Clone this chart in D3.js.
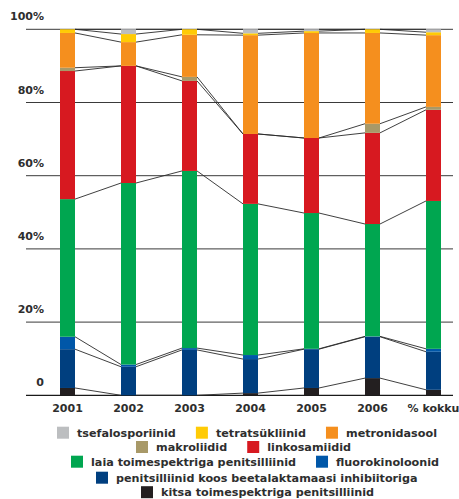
<!DOCTYPE html>
<html><head><meta charset="utf-8">
<script src="https://cdn.jsdelivr.net/npm/d3@7"></script>
<style>
html,body{margin:0;padding:0;background:#fff;}
text{font-family:"DejaVu Sans",sans-serif;font-weight:700;fill:#2e2e2e;}
</style></head>
<body>
<svg id="c" width="459" height="499"></svg>
<script>
const categories = ["2001","2002","2003","2004","2005","2006","% kokku"];
const seriesNames = ["kitsa toimespektriga penitsilliinid","penitsilliinid koos beetalaktamaasi inhibiitoriga","fluorokinoloonid","laia toimespektriga penitsilliinid","linkosamiidid","makroliidid","metronidasool","tetratsükliinid","tsefalosporiinid"];
const colors = ["#231f20","#003f7f","#0057a8","#00a650","#d71920","#a89968","#f58f1e","#ffcb05","#bcbec0"];
// values per series, one per category (percent)
const kitsa     = [2.0, 0.0, 0.0, 0.6, 2.0, 4.7, 1.5];
const beeta     = [10.6, 7.8, 12.4, 9.3, 10.6, 11.3, 10.4];
const fluoro    = [3.4, 0.6, 0.5, 1.1, 0.1, 0.1, 0.8];
const laia      = [37.6, 49.6, 48.4, 41.3, 37.1, 30.7, 40.4];
const linko     = [35.0, 32.0, 24.6, 19.1, 20.5, 24.9, 24.9];
const makro     = [0.9, 0.0, 1.1, 0.0, 0.0, 2.5, 0.8];
const metro     = [9.5, 6.5, 11.5, 27.0, 28.7, 24.8, 19.6];
const tetra     = [1.0, 2.2, 1.5, 0.5, 0.5, 1.0, 0.8];
const tsefa     = [0.0, 1.3, 0.0, 1.1, 0.5, 0.0, 0.8];
const yTicks = [0,20,40,60,80,100];
const yTickLabels = ["0","20%","40%","60%","80%","100%"];
// legend rows (indices into seriesNames)
const legendRows = [[8,7,6],[5,4],[3,2],[1],[0]];

const seriesValues = [kitsa,beeta,fluoro,laia,linko,makro,metro,tetra,tsefa];
const table = categories.map((c,j)=>{const o={cat:c}; seriesNames.forEach((s,i)=>o[s]=seriesValues[i][j]); return o;});
const stack = d3.stack().keys(seriesNames)(table);

const svg = d3.select("#c");
const x = d3.scalePoint().domain(categories).range([67.5,433.5]);
const bw = 15;
const y = d3.scaleLinear().domain([0,100]).range([395.3,29.3]);

// gridlines
const grid = svg.append("g");
yTicks.forEach((t,i)=>{
  grid.append("line").attr("x1",26).attr("x2",453).attr("y1",y(t)).attr("y2",y(t))
    .attr("stroke", t===0 ? "#1a1a1a" : "#3a3a3a").attr("stroke-width", t===0?1.3:1);
  grid.append("text").attr("x",44).attr("y",y(t)-9).attr("text-anchor","end")
    .attr("font-size",11).text(yTickLabels[i]);
});

// bars
stack.forEach((layer,i)=>{
  svg.append("g").attr("fill",colors[i]).selectAll("rect").data(layer).join("rect")
    .attr("x",d=>x(d.data.cat)-bw/2).attr("width",bw)
    .attr("y",d=>y(d[1])).attr("height",d=>Math.max(0,y(d[0])-y(d[1])));
});

// connecting lines
const lg = svg.append("g").attr("stroke","#2a2a2a").attr("stroke-width",0.9).attr("fill","none");
stack.forEach(layer=>{
  for(let j=0;j<layer.length-1;j++){
    const a=layer[j], b=layer[j+1];
    lg.append("line").attr("x1",x(a.data.cat)+bw/2).attr("y1",y(a[1]))
      .attr("x2",x(b.data.cat)-bw/2).attr("y2",y(b[1]));
  }
});

// x labels
svg.append("g").selectAll("text").data(categories).join("text")
  .attr("x",d=>x(d)).attr("y",412).attr("text-anchor","middle").attr("font-size",11).text(d=>d);

// legend
const rowY = [432.7,447,461.7,477.7,492.2];
const rowX = [57,136,71,96,141];
legendRows.forEach((row,r)=>{
  let cx = rowX[r];
  row.forEach(i=>{
    svg.append("rect").attr("x",cx).attr("y",rowY[r]-6).attr("width",12).attr("height",12).attr("fill",colors[i]);
    const t = svg.append("text").attr("x",cx+20).attr("y",rowY[r]+4).attr("font-size",11.2).text(seriesNames[i]);
    cx += 20 + t.node().getComputedTextLength() + 20;
  });
});
</script>
</body></html>
